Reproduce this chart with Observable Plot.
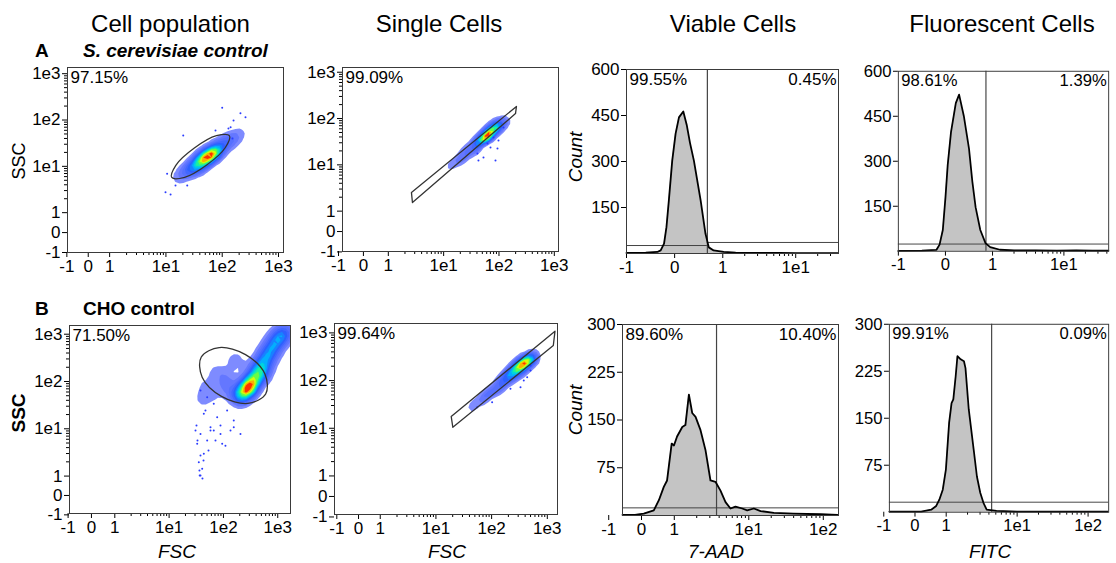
<!DOCTYPE html>
<html><head><meta charset="utf-8">
<script src="https://cdn.jsdelivr.net/npm/d3@7"></script>
<script src="https://cdn.jsdelivr.net/npm/@observablehq/plot@0.6"></script>
<style>
body{margin:0;background:#fff;}
#fig{position:relative;width:1116px;height:563px;overflow:hidden;background:#fff;}
</style></head>
<body><div id="fig"></div>
<script>
// ---------------- DATA ----------------
const scatterTickValues = [-1, 0, 1, 10, 100, 1000];
const scatterTickLabels = ["-1", "0", "1", "1e1", "1e2", "1e3"];
const histTickValuesA = [-1, 0, 1, 10];
const histTickLabelsA = ["-1", "0", "1", "1e1"];
const histTickValuesB = [-1, 0, 1, 10, 100];
const histTickLabelsB = ["-1", "0", "1", "1e1", "1e2"];
const minorTickValues = [2,3,4,5,6,7,8,9,20,30,40,50,60,70,80,90,200,300,400,500,600,700,800,900];
const countTicksA = [150, 300, 450, 600];
const countTicksB = [75, 150, 225, 300];

const columnTitles = ["Cell population", "Single Cells", "Viable Cells", "Fluorescent Cells"];
const rowLetters = ["A", "B"];
const rowNames = ["S. cerevisiae control", "CHO control"];

// A1: S. cerevisiae, cell population (FSC vs SSC)
const a1Percent = ["97.15%"];
const a1GateFSC = [134, 113, 53, 21.5, 12.7, 15, 32, 79];
const a1GateSSC = [46, 25.2, 10.7, 5.8, 5.75, 10.5, 24.8, 45.8];
const a1CoreFSC = [15.9, 21.5, 29, 39.1, 52.6, 71, 95.7, 129, 174, 234];
const a1CoreSSC = [5.4, 7.0, 9.1, 11.9, 15.5, 20.1, 26.2, 34.1, 44.5, 57.8];
const a1CoreWeight = [1, 2, 4, 7, 9, 7, 4, 2.5, 1.5, 0.6];
const a1OutFSC = [9.84, 12.1, 20.3, 100, 211, 259, 159, 141, 10.5, 23.9, 152, 129, 76, 14.8];
const a1OutSSC = [2.75, 2.46, 46.2, 183, 140, 115, 97.5, 69.8, 6.9, 3.85, 39.8, 65.5, 59.3, 3.85];

// A2: S. cerevisiae, single cells
const a2Percent = ["99.09%"];
const a2GateFSC = [2.62, 207, 199, 2.73];
const a2GateSSC = [2.52, 182, 128, 1.54];
const a2CoreFSC = [13, 16, 20, 25, 30, 37, 45, 53, 62, 70, 80, 90, 100, 115, 130];
const a2CoreSSC = [9, 11, 14, 17.5, 21, 26, 32, 38, 45, 51, 58, 65, 72, 84, 95];
const a2CoreWeight = [1, 1.5, 2, 2.5, 3, 4, 5, 6, 7, 6, 5, 4, 3, 2, 1.2];
const a2OutFSC = [40.8, 52.5, 70.3, 94, 42.6, 98, 120.8, 86.5, 62, 79.6];
const a2OutSSC = [17.6, 14.4, 23.7, 22.5, 12.4, 33.5, 64, 12.4, 28.9, 38.9];

// A3: S. cerevisiae, viable cells (7-AAD histogram)
const a3Percent = ["99.55%", "0.45%"];
const a3X = [-1, -0.6, -0.36, -0.29, -0.22, -0.17, -0.12, -0.05, 0.02, 0.09, 0.18, 0.25, 0.32, 0.40, 0.54, 0.64, 0.71, 0.81, 1.03, 1.5, 3, 6, 10, 20, 38];
const a3Count = [2, 3, 5, 10, 32, 86, 173, 303, 391, 444, 463, 420, 360, 303, 173, 65, 20, 10, 5, 3, 2, 2, 1, 1, 1];
const a3Gate = [0.68, 26, 36]; // cut, left level, right level

// A4: S. cerevisiae, fluorescent cells (FITC histogram)
const a4Percent = ["98.61%", "1.39%"];
const a4X = [-1, -0.5, -0.19, -0.125, -0.056, 0, 0.048, 0.118, 0.22, 0.29, 0.39, 0.50, 0.57, 0.64, 0.74, 0.85, 0.95, 1.27, 2, 4, 8, 15, 25, 42];
const a4Count = [1, 2, 5, 22, 71, 179, 288, 397, 494, 522, 451, 342, 234, 147, 71, 27, 14, 5, 3, 3, 2, 3, 2, 2];
const a4Gate = [0.86, 24, 24];

// B5: CHO, cell population
const b5Percent = ["71.50%"];
const b5GateFSC = [600, 281, 92, 40.6, 39.1, 83.5, 255, 578];
const b5GateSSC = [54.4, 34.4, 48.4, 123, 330, 521, 371, 146];
const b5CoreFSC = [289, 206, 389, 450, 524, 620, 736, 880, 1033, 1200, 1390, 109, 71.4, 46.8, 37.8, 34.8, 167, 57.8, 120];
const b5CoreSSC = [74.7, 50.6, 116, 160, 218, 320, 453, 620, 811, 1000, 1197, 105, 171, 82.4, 39.6, 15, 278, 50.6, 60];
const b5CoreWeight = [10, 6, 5, 4.5, 4, 3.5, 3, 3, 2.5, 2.2, 2, 2, 1, 1, 0.8, 0.5, 1.5, 1, 1.2];
const b5OutFSC = [33.3, 37.8, 36.2, 43, 57.8, 71.4, 46.7, 30.6, 88.3, 109, 37.8, 41.1, 31.9, 135, 53.1,
  37.8, 50.2, 66.4, 43.5, 76.7, 117, 155, 57.8, 88.3, 37.8, 32.9, 50.2, 94.8, 43.5, 66.4, 155, 206, 35.2, 40.6, 36.6];
const b5OutSSC = [5.66, 2.73, 1.31, 2.14, 9.2, 5.66, 24.4, 9.2, 11.7, 4.4, 1.03, 0.88, 11.7, 9.2, 3.48,
  64.6, 46.6, 33.8, 20.8, 17.6, 24.4, 15, 10.8, 7.8, 7.8, 4.8, 5.66, 4.8, 2.96, 9.2, 10.8, 7.8, 1.97, 1.43, 1.03];

// B6: CHO, single cells
const b6Percent = ["99.64%"];
const b6GateFSC = [18.8, 1374, 1282, 20.1];
const b6GateSSC = [17.7, 1086, 545, 10.5];
const b6CoreFSC = [42, 55, 70, 88, 110, 135, 170, 205, 250, 300, 350, 400, 450, 520, 600];
const b6CoreSSC = [26, 34, 42, 53, 65, 80, 100, 122, 150, 180, 210, 240, 270, 300, 330];
const b6CoreWeight = [1, 1.2, 1.5, 1.8, 2, 2.5, 3, 4, 5, 6, 6, 5, 4, 2.5, 1.5];
const b6OutFSC = [378, 435, 499, 330, 218, 102, 55, 499];
const b6OutSSC = [100, 118, 163, 72.6, 67.3, 35.2, 27.7, 207];

// B7: CHO, viable cells (7-AAD)
const b7Percent = ["89.60%", "10.40%"];
const b7X = [-0.58, -0.2, 0.07, 0.375, 0.53, 0.68, 0.78, 0.92, 0.99, 1.09, 1.28, 1.41, 1.57, 1.74, 1.93, 2.25, 2.62, 3.06, 3.57, 4.17, 4.87, 5.68, 6.63, 8.16, 9.52, 11.7, 14.4, 21.7, 39.8, 91.8, 155];
const b7Count = [1, 1, 3, 8, 24, 45, 55, 113, 110, 124, 139, 142, 190, 161, 155, 134, 103, 55, 53, 39, 21, 11, 14, 11, 8, 11, 7, 4, 3, 2, 1];
const b7Gate = [3.69, 12, 12];

// B8: CHO, fluorescent cells (FITC)
const b8Percent = ["99.91%", "0.09%"];
const b8X = [-0.82, -0.3, 0.2, 0.52, 0.68, 0.78, 0.89, 0.99, 1.10, 1.19, 1.26, 1.36, 1.44, 1.60, 1.78, 1.87, 2.08, 2.44, 2.71, 3.02, 3.35, 3.72, 5.12, 10, 30, 100, 190];
const b8Count = [1, 1, 1, 4, 10, 20, 36, 68, 143, 174, 180, 217, 249, 244, 241, 230, 164, 100, 57, 31, 15, 4, 2, 1, 1, 1, 1];
const b8Gate = [4.37, 16, 16];

// ---------------- DRAWING ----------------
const FONT = '"Liberation Sans", Arial, Helvetica, sans-serif';
const fig = document.getElementById("fig");
const jet = d3.piecewise(d3.interpolateRgb, ["#6a78ff", "#2a5cff", "#00b4ff", "#00f0c0", "#60ff40", "#e8ff00", "#ffa000", "#ff1a00"]);
const ML = 52, MR = 8, MT = 10, MB = 30;

// biexponential-like display transform: linear around zero, log10 beyond |1|
function flowT(L) { return v => Math.abs(v) <= 1 ? v * L : Math.sign(v) * (L + Math.log10(Math.abs(v))); }

function flowAxis(dim, T, values, labels, domain) {
  const A = dim === "x" ? Plot.axisX : Plot.axisY;
  const fmt = new Map(values.map((v, i) => [T(v), labels[i]]));
  const minor = minorTickValues.filter(v => v > domain[0] && v < domain[1]).map(T);
  return [
    A({ticks: minor, tickSize: 3, tickFormat: () => "", label: null}),
    A({ticks: values.map(T), tickSize: 5, tickPadding: 2, tickFormat: t => fmt.get(t), label: null})
  ];
}

function place(svg, left, top) {
  const d = document.createElement("div");
  d.style.position = "absolute";
  d.style.left = (left - ML) + "px";
  d.style.top = (top - MT) + "px";
  d.appendChild(svg);
  fig.appendChild(d);
}

const baseStyle = {fontFamily: FONT, fontSize: "17px", color: "#000", background: "transparent", overflow: "visible"};

function scatterPanel(c) {
  const Tx = flowT(c.xL), Ty = flowT(c.yL);
  const core = c.coreX.map((v, i) => ({x: v, y: c.coreY[i], w: c.coreW[i]}));
  const out = c.outX.map((v, i) => ({x: v, y: c.outY[i]}));
  const gate = c.gateX.map((v, i) => ({x: v, y: c.gateY[i]}));
  const svg = Plot.plot({
    width: c.w + ML + MR, height: c.h + MT + MB,
    marginLeft: ML, marginRight: MR, marginTop: MT, marginBottom: MB,
    x: {domain: c.xDomain.map(Tx)},
    y: {domain: c.yDomain.map(Ty)},
    color: {type: "pow", exponent: 2, interpolate: jet},
    style: baseStyle,
    marks: [
      ...flowAxis("x", Tx, scatterTickValues, scatterTickLabels, c.xDomain),
      ...flowAxis("y", Ty, scatterTickValues, scatterTickLabels, c.yDomain),
      Plot.density(core, {x: d => Tx(d.x), y: d => Ty(d.y), weight: "w", bandwidth: c.bw, thresholds: 14, fill: "density", fillOpacity: 0.85, stroke: "none", clip: true}),
      Plot.dot(out, {x: d => Tx(d.x), y: d => Ty(d.y), r: 1, fill: "#2a3cff", stroke: "none"}),
      Plot.line(gate, {x: d => Tx(d.x), y: d => Ty(d.y), curve: c.curve, stroke: "#333", strokeWidth: 1.3}),
      Plot.text(c.percent, {text: d => d, frameAnchor: "top-left", dx: 3, dy: 3, textAnchor: "start", lineAnchor: "top", fontSize: 17}),
      Plot.frame({stroke: "#3a3a3a"})
    ]
  });
  place(svg, c.left, c.top);
}

function histPanel(c) {
  const Tx = flowT(c.xL);
  const data = c.xs.map((v, i) => ({x: v, n: c.counts[i]}));
  const [cut, lvlL, lvlR] = c.gate;
  const svg = Plot.plot({
    width: c.w + ML + MR, height: c.h + MT + MB,
    marginLeft: ML, marginRight: MR, marginTop: MT, marginBottom: MB,
    x: {domain: c.xDomain.map(Tx)},
    y: {domain: [0, c.yMax]},
    style: baseStyle,
    marks: [
      ...flowAxis("x", Tx, c.tickValues, c.tickLabels, c.xDomain),
      Plot.axisY({ticks: c.countTicks, tickSize: 5, tickPadding: 2, label: null}),
      Plot.areaY(data, {x: d => Tx(d.x), y: "n", fill: "#c4c4c4"}),
      Plot.ruleX([cut], {x: d => Tx(d), stroke: "#444", strokeWidth: 1.2}),
      Plot.ruleY([{y: lvlL, a: c.xDomain[0], b: cut}, {y: lvlR, a: cut, b: c.xDomain[1]}],
        {y: "y", x1: d => Tx(d.a), x2: d => Tx(d.b), stroke: "#444", strokeWidth: 1}),
      Plot.lineY(data, {x: d => Tx(d.x), y: "n", stroke: "#000", strokeWidth: 1.8}),
      Plot.text([c.percent[0]], {text: d => d, frameAnchor: "top-left", dx: 3, dy: 3, textAnchor: "start", lineAnchor: "top", fontSize: 17}),
      Plot.text([c.percent[1]], {text: d => d, frameAnchor: "top-right", dx: -2, dy: 3, textAnchor: "end", lineAnchor: "top", fontSize: 17}),
      Plot.frame({stroke: "#3a3a3a"})
    ]
  });
  place(svg, c.left, c.top);
}

// Row A
scatterPanel({left: 67, top: 67, w: 216, h: 185, xL: 0.38, yL: 0.43, xDomain: [-0.97, 1227], yDomain: [-1.0, 1361],
  coreX: a1CoreFSC, coreY: a1CoreSSC, coreW: a1CoreWeight, outX: a1OutFSC, outY: a1OutSSC,
  gateX: a1GateFSC, gateY: a1GateSSC, curve: "catmull-rom-closed", bw: 3.8, percent: a1Percent});
scatterPanel({left: 342, top: 67, w: 216, h: 184, xL: 0.45, yL: 0.44, xDomain: [-0.84, 1191], yDomain: [-0.98, 1265],
  coreX: a2CoreFSC, coreY: a2CoreSSC, coreW: a2CoreWeight, outX: a2OutFSC, outY: a2OutSSC,
  gateX: a2GateFSC, gateY: a2GateSSC, curve: "linear-closed", bw: 1.6, percent: a2Percent});
histPanel({left: 626, top: 69, w: 212, h: 184, xL: 0.66, xDomain: [-1.0, 38.6], yMax: 600,
  xs: a3X, counts: a3Count, gate: a3Gate, tickValues: histTickValuesA, tickLabels: histTickLabelsA, countTicks: countTicksA, percent: a3Percent});
histPanel({left: 899, top: 71, w: 215, h: 184, xL: 0.66, xDomain: [-1.0, 42.4], yMax: 600,
  xs: a4X, counts: a4Count, gate: a4Gate, tickValues: histTickValuesA, tickLabels: histTickLabelsA, countTicks: countTicksA, percent: a4Percent});

// Row B
scatterPanel({left: 69, top: 325, w: 221, h: 188, xL: 0.43, yL: 0.41, xDomain: [-0.94, 1718], yDomain: [-0.93, 1528],
  coreX: b5CoreFSC, coreY: b5CoreSSC, coreW: b5CoreWeight, outX: b5OutFSC, outY: b5OutSSC,
  gateX: b5GateFSC, gateY: b5GateSSC, curve: "catmull-rom-closed", bw: 5, percent: b5Percent});
scatterPanel({left: 334, top: 323, w: 223, h: 191, xL: 0.39, yL: 0.43, xDomain: [-1.1, 1524], yDomain: [-0.88, 1574],
  coreX: b6CoreFSC, coreY: b6CoreSSC, coreW: b6CoreWeight, outX: b6OutFSC, outY: b6OutSSC,
  gateX: b6GateFSC, gateY: b6GateSSC, curve: "linear-closed", bw: 1.8, percent: b6Percent});
histPanel({left: 622, top: 324, w: 216, h: 191, xL: 0.44, xDomain: [-0.58, 160], yMax: 300,
  xs: b7X, counts: b7Count, gate: b7Gate, tickValues: histTickValuesB, tickLabels: histTickLabelsB, countTicks: countTicksB, percent: b7Percent});
histPanel({left: 890, top: 324, w: 224, h: 192, xL: 0.44, xDomain: [-0.82, 195], yMax: 300,
  xs: b8X, counts: b8Count, gate: b8Gate, tickValues: histTickValuesB, tickLabels: histTickLabelsB, countTicks: countTicksB, percent: b8Percent});

// ---------------- TEXT ----------------
const ov = d3.select(fig).append("svg")
  .attr("width", 1116).attr("height", 563)
  .style("position", "absolute").style("left", "0px").style("top", "0px")
  .style("pointer-events", "none").style("font-family", FONT);

function txt(s, x, y, o = {}) {
  const t = ov.append("text").text(s)
    .attr("text-anchor", o.anchor || "middle")
    .attr("font-size", o.size || 18)
    .attr("font-weight", o.weight || "normal")
    .attr("font-style", o.style || "normal")
    .attr("fill", "#000");
  if (o.rotate) t.attr("transform", `translate(${x},${y}) rotate(-90)`);
  else t.attr("x", x).attr("y", y);
}

const titleX = [170.5, 439, 733, 1002];
columnTitles.forEach((s, i) => txt(s, titleX[i], 32, {size: 24}));
txt(rowLetters[0], 35, 57, {anchor: "start", size: 19, weight: "bold"});
txt(rowNames[0], 83, 57, {anchor: "start", size: 19, weight: "bold", style: "italic"});
txt(rowLetters[1], 35, 315, {anchor: "start", size: 19, weight: "bold"});
txt(rowNames[1], 83, 315, {anchor: "start", size: 19, weight: "bold"});

txt("SSC", 25, 161, {size: 18, rotate: true});
txt("SSC", 25, 413, {size: 19, weight: "bold", rotate: true});
txt("Count", 582, 157, {size: 19, style: "italic", rotate: true});
txt("Count", 582, 410, {size: 19, style: "italic", rotate: true});
txt("FSC", 177, 558, {size: 19, style: "italic"});
txt("FSC", 447, 558, {size: 19, style: "italic"});
txt("7-AAD", 716, 558, {size: 19, style: "italic"});
txt("FITC", 990, 558, {size: 19, style: "italic"});
</script>
</body></html>
